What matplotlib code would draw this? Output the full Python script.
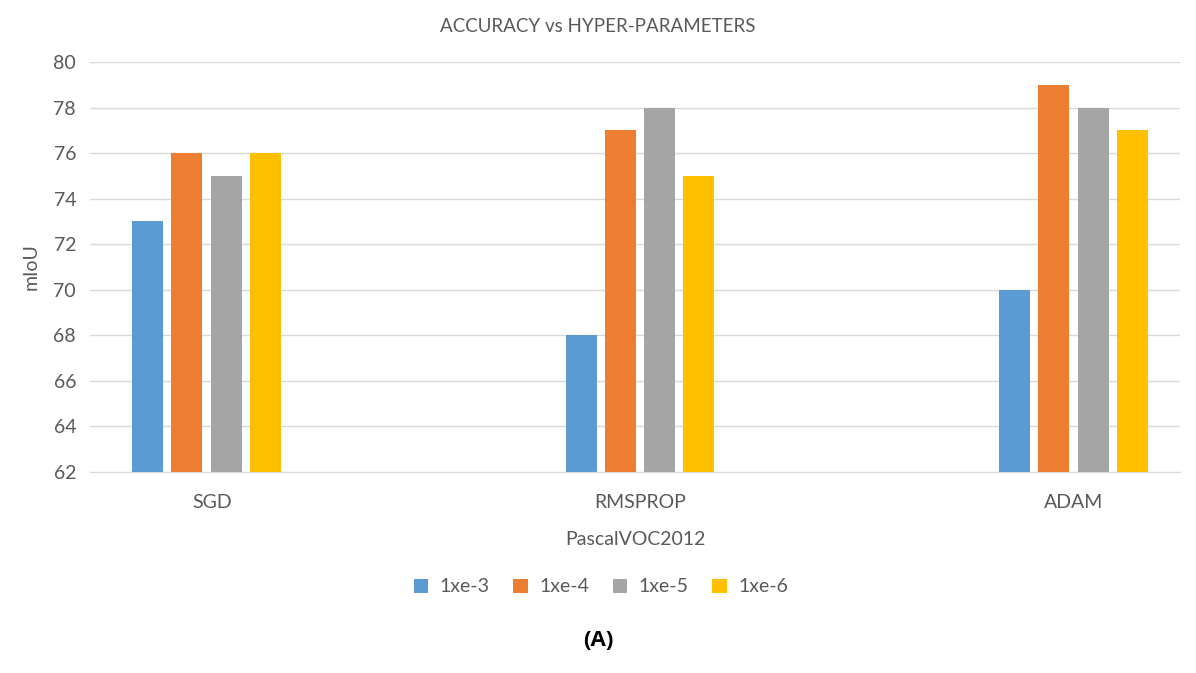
import matplotlib
matplotlib.use("Agg")
import matplotlib.pyplot as plt
import numpy as np

categories = ["SGD", "RMSPROP", "ADAM"]
series_names = ["1xe-3", "1xe-4", "1xe-5", "1xe-6"]
v_1e3 = [73, 68, 70]
v_1e4 = [76, 77, 79]
v_1e5 = [75, 78, 78]
v_1e6 = [76, 75, 77]
series = [v_1e3, v_1e4, v_1e5, v_1e6]
colors = ["#5B9BD5", "#ED7D31", "#A5A5A5", "#FFC000"]
yticks = list(range(62, 81, 2))

plt.rcParams['font.family'] = ['Lato', 'DejaVu Sans']
txt = "#595959"

fig = plt.figure(figsize=(11.96, 6.73), dpi=100)
ax = fig.add_axes([90/1196, 1-472/673, (1180-90)/1196, (472-62)/673])

x = np.arange(len(categories))
step = 0.0907
width = 0.0715
for i, (vals, c, name) in enumerate(zip(series, colors, series_names)):
    ax.bar(x + (i - 1.5) * step, np.array(vals) - 62, bottom=62, width=width,
           color=c, label=name, zorder=3)

ax.set_ylim(62, 80)
ax.set_xlim(-0.269, 2.246)
ax.set_yticks(yticks)
ax.set_xticks([0.013, 1, 2])
ax.set_xticklabels(categories)
ax.grid(axis='y', color='#D9D9D9', linewidth=1, zorder=0)
for s in ['top', 'right', 'left']:
    ax.spines[s].set_visible(False)
ax.spines['bottom'].set_color('#D9D9D9')
ax.tick_params(axis='both', length=0, labelsize=14, colors=txt)
ax.tick_params(axis='x', pad=16)
ax.tick_params(axis='y', pad=10)
ax.set_ylabel("mIoU", fontsize=14, color=txt, labelpad=10)
ax.set_xlabel("PascalVOC2012", fontsize=14, color=txt, labelpad=14)

fig.text(0.5, 1-26/673, "ACCURACY vs HYPER-PARAMETERS", ha='center', va='center',
         fontsize=13.5, color=txt)
leg = fig.legend(loc='center', bbox_to_anchor=(601/1196, 1-587/673), ncol=4,
                 frameon=False, fontsize=14, handlelength=0.75, handleheight=0.75,
                 columnspacing=1.2, handletextpad=0.6)
for t in leg.get_texts():
    t.set_color(txt)
fig.text(0.5, 1-640/673, "(A)", ha='center', va='center', fontsize=16,
         fontweight='bold', color='black', family=['Open Sans', 'DejaVu Sans'])

fig.savefig("out.png", dpi=100)
